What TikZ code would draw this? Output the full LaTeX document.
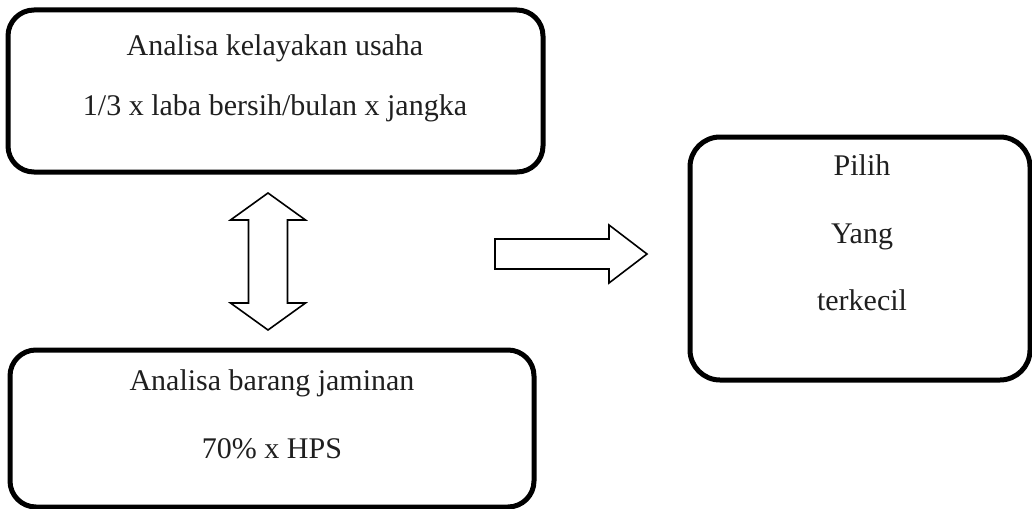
\documentclass[tikz,border=0pt]{standalone}
\usepackage{fontspec}
\setmainfont{Liberation Serif}
\begin{document}
\begin{tikzpicture}[x=1pt,y=-1pt,
  box/.style={draw=black, line width=5pt, rounded corners=26pt, inner sep=0pt},
  txt/.style={font=\fontsize{30}{36}\selectfont, text=black!88, inner sep=0pt,
              text height=0.7em, text depth=0.2em, anchor=center},
  blockarrow/.style={draw=black, line width=1.6pt, line join=miter}]
\useasboundingbox (0,0) rectangle (1032,508);

% rounded frames
\node[box, minimum width=535pt, minimum height=162pt] (usaha) at (275.5,91) {};
\node[box, minimum width=524pt, minimum height=157pt] (jaminan) at (272,428.5) {};
\node[box, minimum width=340pt, minimum height=243pt, rounded corners=30pt] (pilih) at (860,258.5) {};

% texts
\node[txt] (u1) at (275,53) {Analisa kelayakan usaha};
\node[txt] (u2) at (275,113) {1/3 x laba bersih/bulan x jangka};
\node[txt] (j1) at (272,388) {Analisa barang jaminan};
\node[txt] (j2) at (272,456) {70\% x HPS};
\node[txt] (p1) at (862,173) {Pilih};
\node[txt] (p2) at (862,241) {Yang};
\node[txt] (p3) at (862,308) {terkecil};

% vertical double block arrow between the two analyses
\coordinate (ud) at (268,261.5);
\draw[blockarrow] ([yshift=68.5pt]ud) -- ++(37.5,27) -- ++(-18,0) -- ++(0,83)
  -- ++(18,0) -- ++(-37.5,27) -- ++(-37.5,-27) -- ++(18,0) -- ++(0,-83)
  -- ++(-18,0) -- cycle;

% horizontal block arrow towards the choice
\coordinate (ra) at (495,254);
\draw[blockarrow] ([yshift=15pt]ra) -- ++(114,0) -- ++(0,-14) -- ++(38,29)
  -- ++(-38,29) -- ++(0,-14) -- ++(-114,0) -- cycle;
\end{tikzpicture}
\end{document}
